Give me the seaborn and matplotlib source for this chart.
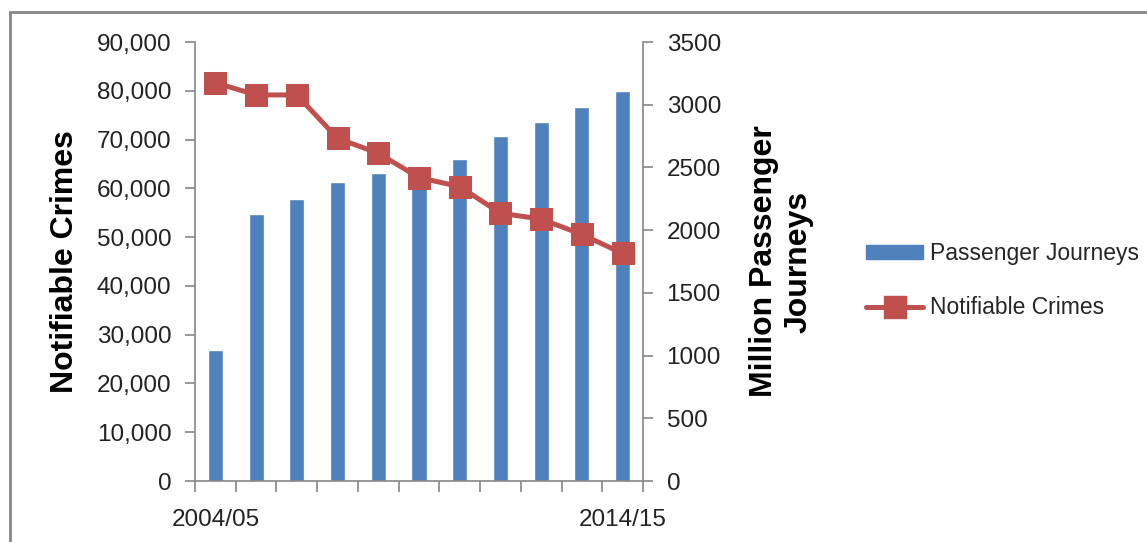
import numpy as np
import pandas as pd
import seaborn as sns
import matplotlib.pyplot as plt
from matplotlib.patches import Rectangle, Patch
from matplotlib.lines import Line2D
from matplotlib.ticker import FuncFormatter

# data
years = ["2004/05", "2005/06", "2006/07", "2007/08", "2008/09", "2009/10",
         "2010/11", "2011/12", "2012/13", "2013/14", "2014/15"]
journeys = [1045, 2129, 2249, 2382, 2453, 2500, 2565, 2749, 2860, 2982, 3107]
crimes = [81650, 79150, 79150, 70250, 67200, 62200, 60350, 54900, 53700, 50550, 46650]

bar_col = "#4F81BD"
line_col = "#C0504D"
grey = "#868686"

sns.set_style("white")
plt.rcParams['font.family'] = ['Liberation Sans', 'DejaVu Sans']

fig = plt.figure(figsize=(11.47, 5.42), dpi=100)
ax = fig.add_axes([0.170, 0.1125, 0.3906, 0.81])

df = pd.DataFrame({"year": years, "journeys": journeys, "crimes": crimes})

# bars on the host axis (scale shown on the right)
sns.barplot(data=df, x="year", y="journeys", color=bar_col, saturation=1,
            width=0.37, ax=ax)
ax.set_ylim(0, 3500)
ax.set_xlim(-0.5, 10.5)

# line on twin axis (scale shown on the left), drawn above bars
ax2 = ax.twinx()
sns.lineplot(x=np.arange(len(years)), y=crimes, color=line_col, lw=3.6,
             marker="s", markersize=16, markeredgecolor=line_col, ax=ax2)
ax2.set_ylim(0, 90000)

# swap sides: crimes on the left, journeys on the right
ax.yaxis.tick_right()
ax.yaxis.set_label_position("right")
ax2.yaxis.tick_left()
ax2.yaxis.set_label_position("left")

ax.set_yticks(np.arange(0, 3501, 500))
ax2.set_yticks(np.arange(0, 90001, 10000))
ax2.yaxis.set_major_formatter(FuncFormatter(lambda v, p: f"{int(v):,}"))

for a in (ax, ax2):
    for s in a.spines.values():
        s.set_visible(False)
    a.tick_params(axis="y", colors=grey, labelcolor="#222222", labelsize=17.5,
                  length=7, width=1.2, direction="out", pad=10)
for s in ("left", "right", "bottom"):
    ax2.spines[s].set_visible(True)
    ax2.spines[s].set_color(grey)
    ax2.spines[s].set_linewidth(1.2)

# x ticks: marks at category boundaries, labels only first & last
ax.set_xticks([0, 10])
ax.set_xticklabels([years[0], years[-1]])
ax.set_xticks(np.arange(-0.5, 10.6, 1), minor=True)
ax.tick_params(axis="x", which="major", length=0, labelsize=17.5,
               labelcolor="#222222", pad=20)
ax.tick_params(axis="x", which="minor", length=8, width=1.2, colors=grey,
               direction="out", bottom=True)
ax2.tick_params(axis="x", bottom=False, labelbottom=False)
ax.set_xlabel("")

ax2.set_ylabel("Notifiable Crimes", fontsize=23, fontweight="bold",
               labelpad=12, color="black")
ax.set_ylabel("Million Passenger\nJourneys", fontsize=23, fontweight="bold",
              labelpad=20, color="black", rotation=90, linespacing=1.2)

handles = [Patch(color=bar_col),
           Line2D([0], [0], color=line_col, lw=3.6, marker="s",
                  markersize=16)]
fig.legend(handles, ["Passenger Journeys", "Notifiable Crimes"],
           loc="center left", bbox_to_anchor=(0.737, 0.482), frameon=False,
           fontsize=16.5, handlelength=2.5, handleheight=0.6,
           labelspacing=1.35, handletextpad=0.3)

# outer chart border
fig.patches.append(Rectangle((10 / 1147, -0.1), 1.2, 0.978 + 0.1,
                             transform=fig.transFigure, fill=False,
                             edgecolor=grey, lw=2))

fig.savefig("out.png", dpi=100)
